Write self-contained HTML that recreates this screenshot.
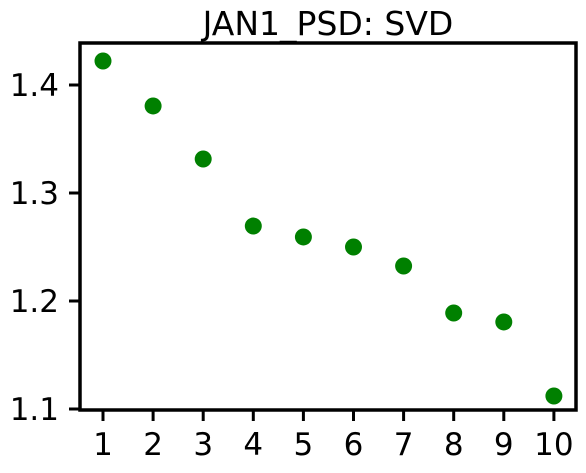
<!DOCTYPE html>
<html><head><meta charset="utf-8">
<style>html,body{margin:0;padding:0;background:#fff;}svg{display:block;font-family:"DejaVu Sans","Liberation Sans",sans-serif;}</style>
</head><body>
<svg id="chart" width="586" height="473">
<text x="328" y="35" font-size="33" text-anchor="middle">JAN1_PSD: SVD</text>
<g id="marks"></g>
<g id="axes"></g>
<rect x="80" y="43" width="496" height="367" fill="none" stroke="#000" stroke-width="3.5"/>
</svg>
<script>
const categories=[1,2,3,4,5,6,7,8,9,10];
const values=[1.4222,1.3806,1.3315,1.2694,1.2593,1.2500,1.2324,1.1889,1.1806,1.1120];
const yTicks=[1.1,1.2,1.3,1.4];
const yTickLabels=["1.1","1.2","1.3","1.4"];
const NS="http://www.w3.org/2000/svg";
function xs(v){return 103+(v-1)*50.1;}
function ys(v){return 85+(1.4-v)*1080;}
const marks=document.getElementById('marks'),axes=document.getElementById('axes');
function mk(t,a,p){const e=document.createElementNS(NS,t);for(const k in a)e.setAttribute(k,a[k]);p.appendChild(e);return e;}
categories.forEach((c,i)=>{
 const d=mk('circle',{cx:xs(c),cy:ys(values[i]),r:8.5,fill:'#008000'},marks);
 
 
 const t=mk('line',{x1:xs(c),x2:xs(c),y1:410,y2:421,stroke:'#000','stroke-width':3},axes);
 
 
 const l=mk('text',{x:xs(c),y:455,'font-size':31,'text-anchor':'middle'},axes);
 l.textContent=c;
 
 
});
yTicks.forEach((v,i)=>{
 const t=mk('line',{x1:69,x2:80,y1:ys(v),y2:ys(v),stroke:'#000','stroke-width':3},axes);
 
 
 const l=mk('text',{x:59,y:ys(v)+11,'font-size':31,'text-anchor':'end'},axes);
 l.textContent=yTickLabels[i];
 
 
});
</script>
</body></html>
